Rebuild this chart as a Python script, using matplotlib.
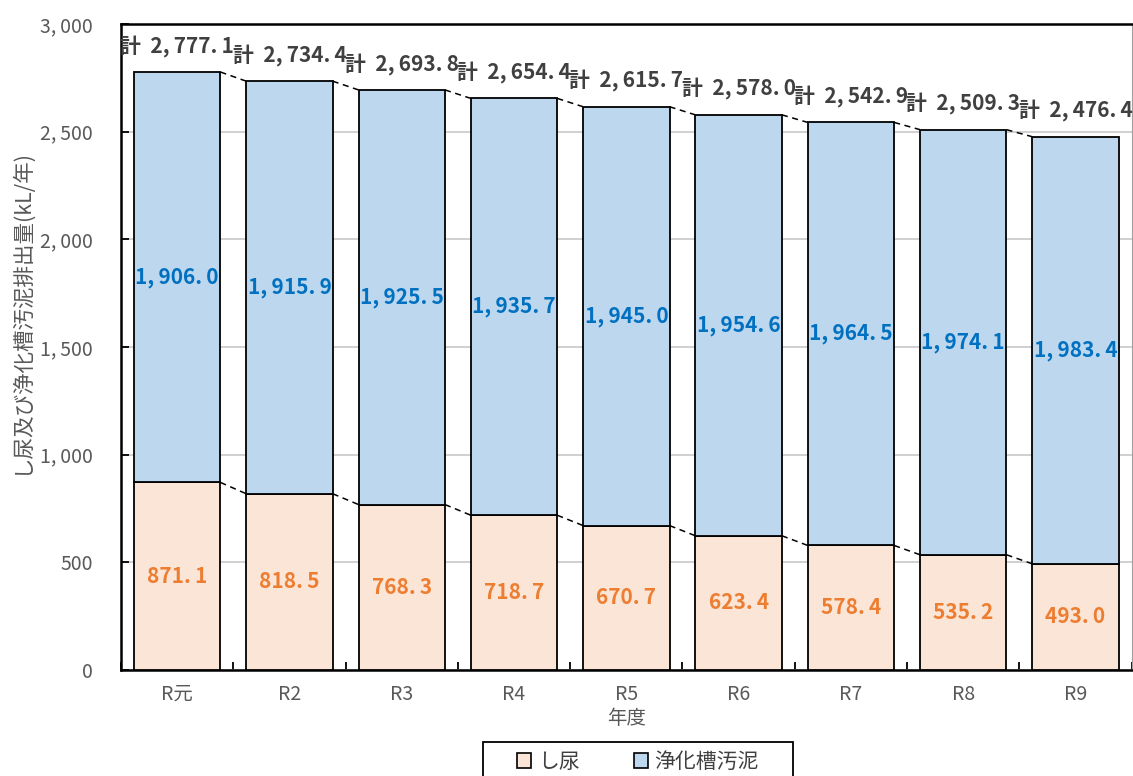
import numpy as np
import matplotlib
matplotlib.use("Agg")
import matplotlib.pyplot as plt
from matplotlib.ticker import FuncFormatter, MultipleLocator
from matplotlib.patches import Patch, Rectangle

plt.rcParams['font.family'] = ['Noto Sans CJK JP', 'DejaVu Sans']

years = ["R元", "R2", "R3", "R4", "R5", "R6", "R7", "R8", "R9"]
shinyo = [871.1, 818.5, 768.3, 718.7, 670.7, 623.4, 578.4, 535.2, 493.0]
jokaso = [1906.0, 1915.9, 1925.5, 1935.7, 1945.0, 1954.6, 1964.5, 1974.1, 1983.4]
totals = [2777.1, 2734.4, 2693.8, 2654.4, 2615.7, 2578.0, 2542.9, 2509.3, 2476.4]

c_shinyo = "#FBE5D6"
c_jokaso = "#BDD7EE"


def fmt(v, dec=1):
    # wide punctuation like the original half-width font
    s = f"{v:,.{dec}f}"
    return s.replace(",", ",\u2009").replace(".", ".\u2009")


fig = plt.figure(figsize=(11.33, 7.76), dpi=100)
ax = fig.add_axes([0.1068, 0.1366, 0.892, 0.8325])

x = np.arange(len(years))
w = 0.77
ax.bar(x, shinyo, w, color=c_shinyo, edgecolor="black", linewidth=1.3, zorder=3)
ax.bar(x, jokaso, w, bottom=shinyo, color=c_jokaso, edgecolor="black", linewidth=1.3, zorder=3)

# dashed connectors between bars
for i in range(len(years) - 1):
    ax.plot([x[i] + w / 2, x[i + 1] - w / 2], [totals[i], totals[i + 1]],
            color="black", ls=(0, (4, 3)), lw=1.1, zorder=4)
    ax.plot([x[i] + w / 2, x[i + 1] - w / 2], [shinyo[i], shinyo[i + 1]],
            color="black", ls=(0, (4, 3)), lw=1.1, zorder=4)

for i in range(len(years)):
    ax.text(x[i], shinyo[i] / 2, fmt(shinyo[i]), ha="center", va="center",
            color="#ED7D31", fontsize=15, fontweight="bold", zorder=5)
    ax.text(x[i], shinyo[i] + jokaso[i] / 2, fmt(jokaso[i]), ha="center", va="center",
            color="#0070C0", fontsize=15, fontweight="bold", zorder=5)
    ax.text(x[i], totals[i] + 118, "計  " + fmt(totals[i]), ha="center", va="center",
            color="#404040", fontsize=15, fontweight="bold", zorder=5)

ax.set_xlim(-0.5, len(years) - 0.5)
ax.set_ylim(0, 3000)
ax.yaxis.set_major_locator(MultipleLocator(500))
ax.yaxis.set_major_formatter(FuncFormatter(lambda v, p: fmt(int(v), 0)))
ax.grid(axis="y", color="#C8C8C8", lw=1.2, zorder=0)
ax.set_axisbelow(True)

ax.set_xticks(x)
ax.set_xticklabels(years)
ax.set_xticks(np.arange(len(years) + 1) - 0.5, minor=True)
ax.tick_params(axis="x", which="major", length=0, pad=10, labelsize=14, labelcolor="#595959")
ax.tick_params(axis="x", which="minor", length=6, direction="in", width=1.3)
ax.tick_params(axis="y", length=6, direction="in", width=1.3, pad=20, labelsize=14,
               labelcolor="#595959")

for s in ["left", "bottom", "top"]:
    ax.spines[s].set_linewidth(1.8)
ax.spines["right"].set_color("#A0A0A0")

ax.set_xlabel("年度", fontsize=14, color="#595959", labelpad=2)
ax.set_ylabel("し尿及び浄化槽汚泥排出量(kL/年)", fontsize=15.5, color="#595959")
ax.yaxis.set_label_coords(-0.088, 0.555)

# legend box (wide frame like the original)
fig.patches.append(Rectangle((483 / 1133, -0.01), 310 / 1133, 0.0535, transform=fig.transFigure,
                             facecolor="white", edgecolor="black", lw=1.3, zorder=1))
handles = [Patch(facecolor=c_shinyo, edgecolor="black", lw=1.2, label="し尿"),
           Patch(facecolor=c_jokaso, edgecolor="black", lw=1.2, label="浄化槽汚泥")]
leg = fig.legend(handles=handles, loc="center", bbox_to_anchor=(0.563, 0.018), ncol=2,
                 frameon=False, fontsize=15, handlelength=0.7, handleheight=0.7,
                 columnspacing=2.6, handletextpad=0.3, borderpad=0.2)
leg.set_zorder(2)
for t in leg.get_texts():
    t.set_color("#404040")

fig.savefig("out.png", dpi=100)
